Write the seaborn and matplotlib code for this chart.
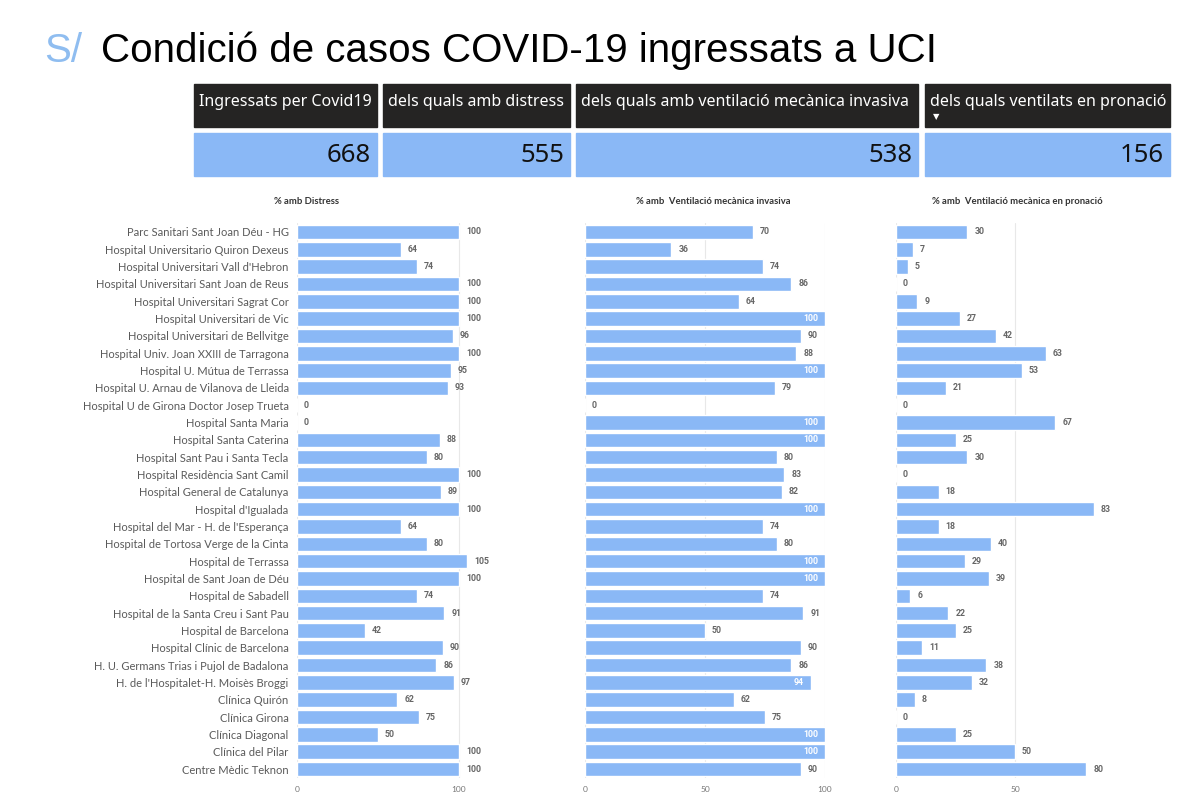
import pandas as pd
import matplotlib.pyplot as plt
import seaborn as sns
from matplotlib.patches import Rectangle

# data
hospitals = [
    'Parc Sanitari Sant Joan Déu - HG',
    'Hospital Universitario Quiron Dexeus',
    "Hospital Universitari Vall d'Hebron",
    'Hospital Universitari Sant Joan de Reus',
    'Hospital Universitari Sagrat Cor',
    'Hospital Universitari de Vic',
    'Hospital Universitari de Bellvitge',
    'Hospital Univ. Joan XXIII de Tarragona',
    'Hospital U. Mútua de Terrassa',
    'Hospital U. Arnau de Vilanova de Lleida',
    'Hospital U de Girona Doctor Josep Trueta',
    'Hospital Santa Maria',
    'Hospital Santa Caterina',
    'Hospital Sant Pau i Santa Tecla',
    'Hospital Residència Sant Camil',
    'Hospital General de Catalunya',
    "Hospital d'Igualada",
    "Hospital del Mar - H. de l'Esperança",
    'Hospital de Tortosa Verge de la Cinta',
    'Hospital de Terrassa',
    'Hospital de Sant Joan de Déu',
    'Hospital de Sabadell',
    'Hospital de la Santa Creu i Sant Pau',
    'Hospital de Barcelona',
    'Hospital Clínic de Barcelona',
    'H. U. Germans Trias i Pujol de Badalona',
    "H. de l'Hospitalet-H. Moisès Broggi",
    'Clínica Quirón',
    'Clínica Girona',
    'Clínica Diagonal',
    'Clínica del Pilar',
    'Centre Mèdic Teknon',
]
pct_distress = [100, 64, 74, 100, 100, 100, 96, 100, 95, 93, 0, 0, 88, 80, 100, 89,
                100, 64, 80, 105, 100, 74, 91, 42, 90, 86, 97, 62, 75, 50, 100, 100]
pct_ventilacio = [70, 36, 74, 86, 64, 100, 90, 88, 100, 79, 0, 100, 100, 80, 83, 82,
                  100, 74, 80, 100, 100, 74, 91, 50, 90, 86, 94, 62, 75, 100, 100, 90]
pct_pronacio = [30, 7, 5, 0, 9, 27, 42, 63, 53, 21, 0, 67, 25, 30, 0, 18,
                83, 18, 40, 29, 39, 6, 22, 25, 11, 38, 32, 8, 0, 25, 50, 80]

card_labels = ['Ingressats per Covid19', 'dels quals amb distress',
               'dels quals amb ventilació mecànica invasiva', 'dels quals ventilats en pronació']
card_values = [668, 555, 538, 156]

panel_titles = ['% amb Distress', '% amb  Ventilació mecànica invasiva',
                '% amb  Ventilació mecànica en pronació']

df = pd.DataFrame({'Hospital': hospitals, 'Distress': pct_distress,
                   'Ventilacio': pct_ventilacio, 'Pronacio': pct_pronacio})

sns.set_style('white')
plt.rcParams['font.family'] = ['Lato', 'DejaVu Sans']

BAR = '#8ab8f6'
W, H = 1200, 798
fig = plt.figure(figsize=(12, 7.98), dpi=100)

def fx(px):
    return px / W

def fy(py):
    return 1 - py / H

# title
fig.text(fx(44), fy(62), 'S/', fontsize=29, color='#8fbdf0', family='Liberation Sans',
         va='baseline', ha='left')
fig.text(fx(101), fy(62), 'Condició de casos COVID-19 ingressats a UCI', fontsize=29,
         color='black', family='Liberation Sans', va='baseline', ha='left')

# cards
boxes = [(194, 377), (383, 570), (576, 918), (925, 1170)]
for (x0, x1), lab, val in zip(boxes, card_labels, card_values):
    fig.patches.append(Rectangle((fx(x0), fy(127)), fx(x1 - x0), 43 / H,
                                 transform=fig.transFigure, color='#252423'))
    fig.patches.append(Rectangle((fx(x0), fy(176)), fx(x1 - x0), 43 / H,
                                 transform=fig.transFigure, color=BAR))
    fig.text(fx(x0 + 5), fy(102), lab, color='white', fontsize=11.5, va='center', ha='left',
             family=['Noto Sans', 'DejaVu Sans'])
    fig.text(fx(x1 - 6), fy(155), str(val), color='#111111', fontsize=18.5, va='center',
             ha='right', family=['Noto Sans', 'DejaVu Sans'])
fig.text(fx(936), fy(117), '▼', color='white', fontsize=6, va='center', ha='center',
         family='DejaVu Sans')

# panels
ax_bottom = fy(777.7)
ax_h = (777.7 - 223.3) / H
panels = [
    ('Distress', fx(297), fx(120 * 1.62), [0, 100], 120, fx(307)),
    ('Ventilacio', fx(585), fx(100 * 2.4), [0, 50, 100], 100, fx(713)),
    ('Pronacio', fx(896), fx(95 * 2.38), [0, 50], 95, fx(1017)),
]

for i, (col, left, width, ticks, xmax, tx) in enumerate(panels):
    ax = fig.add_axes([left, ax_bottom, width, ax_h])
    sns.barplot(data=df, x=col, y='Hospital', color=BAR, width=0.84, ax=ax,
                saturation=1, orient='h')
    ax.set_xlim(0, xmax)
    ax.set_xticks(ticks)
    ax.xaxis.grid(True, color='#e8e8e8', lw=0.8)
    ax.set_axisbelow(True)
    sns.despine(ax=ax, left=True, bottom=True)
    ax.tick_params(axis='both', length=0)
    ax.tick_params(axis='x', labelsize=6, labelcolor='#777777', pad=6)
    ax.set_xlabel('')
    ax.set_ylabel('')
    if i == 0:
        ax.tick_params(axis='y', labelsize=8, labelcolor='#5a5a5a', pad=6)
    else:
        ax.set_yticklabels([])
    for j, v in enumerate(df[col]):
        inside = (i == 1 and v > 92)
        ax.annotate(str(v), (v, j), xytext=(-5 if inside else 5, 0),
                    textcoords='offset points', ha='right' if inside else 'left',
                    va='center', fontsize=6.3, fontweight='bold',
                    color='white' if inside else '#666666', family='Roboto')
    fig.text(tx, fy(201), panel_titles[i], fontsize=6.8, fontweight='bold',
             color='#333333', ha='center', va='center')

fig.savefig('out.png', dpi=100)
